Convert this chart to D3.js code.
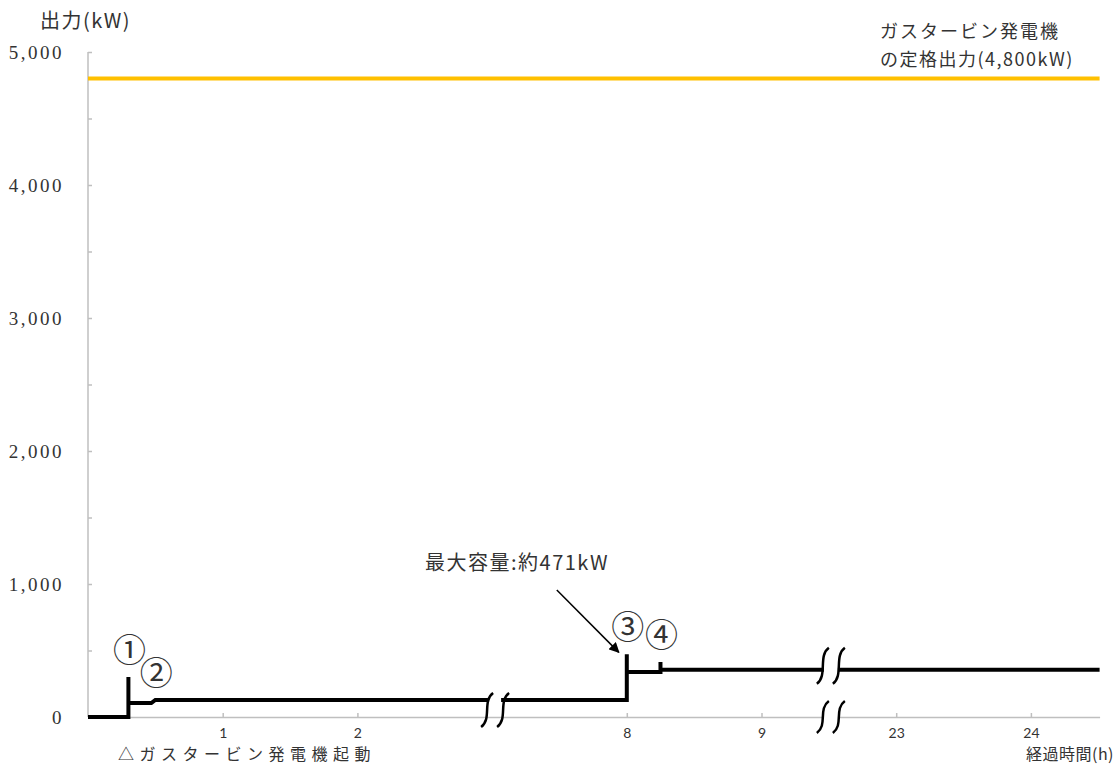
<!DOCTYPE html>
<html>
<head>
<meta charset="utf-8">
<title></title>
<style type="text/css">
  body { margin: 0; background: #fff; }
  text { fill: #333; }
  .serif { font-family: "Liberation Serif", "DejaVu Serif", serif; }
  .jp { font-family: "Noto Sans CJK JP", sans-serif; }
</style>
</head>
<body>
<div id="my_dataviz"></div>
<script src="https://d3js.org/d3.v7.min.js"></script>
<script type="text/javascript">

// elapsed hours and output (kW) of the step line
var hours = [0, 0.3, 0.3, 0.3, 0.47, 0.5, 8, 8, 8, 8.25, 8.25, 8.25, 24.51];
var output = [0, 0, 300, 105, 105, 128, 128, 471, 338, 338, 414, 355, 355];

var xTicks = [1, 2, 8, 9, 23, 24];
var yTicks = [0, 500, 1000, 1500, 2000, 2500, 3000, 3500, 4000, 4500, 5000];
var ratedOutput = 4800;

// the axis is cut between these hours
var breaks = [[3, 7], [9.5, 22.5]];

// circled step markers: hour, kW they sit above
var markers = [
  {label: "①", t: 0.3, v: 300},
  {label: "②", t: 0.5, v: 128},
  {label: "③", t: 8, v: 471},
  {label: "④", t: 8.25, v: 414}
];

var width = 1119, height = 765;
var x0 = 88, unit = 134.7;

var svg = d3.select("#my_dataviz")
  .append("svg")
    .attr("width", width)
    .attr("height", height);

// piecewise scale, flat across the cut parts
var x = d3.scaleLinear()
  .domain([0, breaks[0][0], breaks[0][1], breaks[1][0], breaks[1][1], 24.51])
  .range([0, 3, 3, 5.5, 5.5, 7.51].map(function(d) { return x0 + d * unit; }));

var y = d3.scaleLinear()
  .domain([0, 5000])
  .range([717, 52]);

// y axis
var yAxis = svg.append("g")
  .attr("transform", "translate(" + x0 + ",0)")
  .call(d3.axisLeft(y)
    .tickValues(yTicks)
    .tickSizeInner(-4)
    .tickSizeOuter(0)
    .tickPadding(24)
    .tickFormat(function(d) { return d % 1000 == 0 ? d3.format(",")(d) : ""; }));
yAxis.selectAll("path, line").attr("stroke", "#bfbfbf").attr("stroke-width", 1.5);
yAxis.selectAll("text")
  .attr("class", "serif")
  .style("font-size", "19px")
  .style("letter-spacing", "2.5px")
  .attr("fill", "#333");
yAxis.select(".domain").attr("d", "M0," + y(5000) + "V" + y(0));

// x axis
var xAxis = svg.append("g")
  .attr("transform", "translate(0," + y(0) + ")")
  .call(d3.axisBottom(x)
    .tickValues(xTicks)
    .tickSizeInner(-4)
    .tickSizeOuter(0)
    .tickPadding(11)
    .tickFormat(d3.format("d")));
xAxis.selectAll("path, line").attr("stroke", "#bfbfbf").attr("stroke-width", 1.5);
xAxis.selectAll("text")
  .style("font-family", "Lato, 'Open Sans', sans-serif")
  .style("font-size", "14px")
  .attr("fill", "#222");

// rated output line
svg.append("line")
  .attr("x1", x(0)).attr("x2", x(24.51))
  .attr("y1", y(ratedOutput)).attr("y2", y(ratedOutput))
  .attr("stroke", "#FFC000")
  .attr("stroke-width", 4);

// the step line
var pts = hours.map(function(h, i) { return [h, output[i]]; });
svg.append("path")
  .datum(pts)
  .attr("fill", "none")
  .attr("stroke", "#000")
  .attr("stroke-width", 4)
  .attr("stroke-linejoin", "miter")
  .attr("d", d3.line()
    .x(function(d) { return x(d[0]); })
    .y(function(d) { return y(d[1]); }));

// break marks
function breakMark(cx, cy, hh) {
  [-8, 8].forEach(function(dx) {
    var c = cx + dx;
    svg.append("path")
      .attr("d", "M" + (c + 6) + "," + (cy - hh) +
        "C" + (c - 5) + "," + (cy - hh + 8) + " " +
            (c + 5) + "," + (cy + hh - 8) + " " +
            (c - 6) + "," + (cy + hh))
      .attr("fill", "none")
      .attr("stroke", "#000")
      .attr("stroke-width", 2.5);
  });
}
var b1 = x(breaks[0][0]) + 3;
svg.append("rect").attr("x", b1 - 6).attr("y", y(128) - 5).attr("width", 12).attr("height", 10).attr("fill", "#fff");
breakMark(b1, 710, 17);

var b2 = x(breaks[1][0]) + 2;
svg.append("rect").attr("x", b2 - 7).attr("y", y(355) - 5).attr("width", 14).attr("height", 10).attr("fill", "#fff");
svg.append("rect").attr("x", b2 - 7).attr("y", y(0) - 3).attr("width", 14).attr("height", 6).attr("fill", "#fff");
breakMark(b2, y(355) - 4, 18);
breakMark(b2, y(0), 16);

// circled markers
svg.selectAll(".marker")
  .data(markers)
  .enter().append("text")
    .attr("class", "marker jp")
    .attr("x", function(d) { return x(d.t) + 1; })
    .attr("y", function(d) { return y(d.v) - 15; })
    .attr("text-anchor", "middle")
    .style("font-size", "33px")
    .attr("fill", "#333")
    .text(function(d) { return d.label; });

// maximum capacity note and arrow
svg.append("defs").append("marker")
  .attr("id", "arrow")
  .attr("viewBox", "0 0 10 10")
  .attr("refX", 9).attr("refY", 5)
  .attr("markerWidth", 7).attr("markerHeight", 7)
  .attr("orient", "auto")
  .append("path")
    .attr("d", "M0,0L10,5L0,10z")
    .attr("fill", "#000");

svg.append("line")
  .attr("x1", x(8) - 70).attr("y1", 590)
  .attr("x2", x(8) - 8).attr("y2", y(471) - 2)
  .attr("stroke", "#000")
  .attr("stroke-width", 1.5)
  .attr("marker-end", "url(#arrow)");

svg.append("text")
  .attr("class", "jp")
  .attr("x", 425).attr("y", 570)
  .style("font-size", "20px")
  .style("letter-spacing", "1.5px")
  .text("最大容量:約471kW");

// titles and notes
svg.append("text")
  .attr("class", "jp")
  .attr("x", 40).attr("y", 28)
  .style("font-size", "20px")
  .style("letter-spacing", "1.5px")
  .text("出力(kW)");

svg.append("text")
  .attr("class", "jp")
  .attr("x", 880).attr("y", 38)
  .style("font-size", "18px")
  .style("letter-spacing", "2px")
  .text("ガスタービン発電機");

svg.append("text")
  .attr("class", "jp")
  .attr("x", 880).attr("y", 66)
  .style("font-size", "18px")
  .style("letter-spacing", "1.5px")
  .text("の定格出力(4,800kW)");

svg.append("text")
  .attr("class", "jp")
  .attr("x", 118).attr("y", 760)
  .style("font-size", "16px")
  .style("letter-spacing", "5.5px")
  .text("△ガスタービン発電機起動");

svg.append("text")
  .attr("class", "jp")
  .attr("x", 1114).attr("y", 760)
  .attr("text-anchor", "end")
  .style("font-size", "16px")
  .style("letter-spacing", "0.5px")
  .text("経過時間(h)");

</script>
</body>
</html>
